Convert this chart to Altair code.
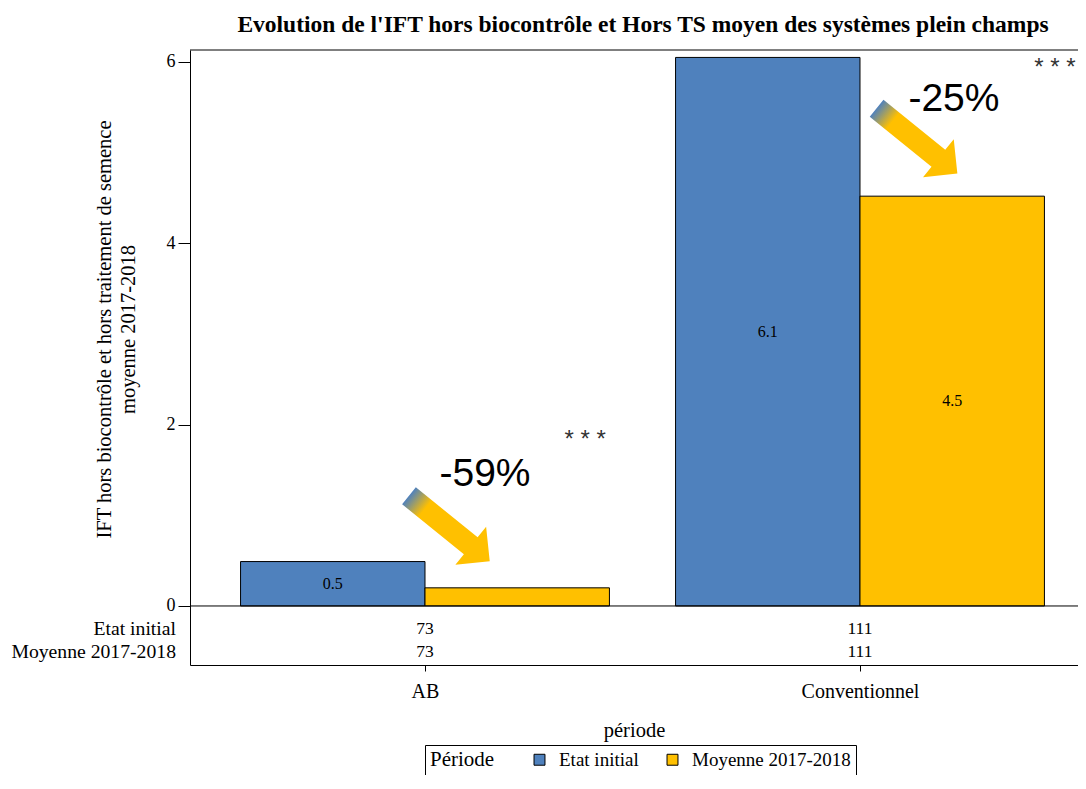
import altair as alt
import pandas as pd

# ---------------- data ----------------
groups = ["AB", "Conventionnel"]
periods = ["Etat initial", "Moyenne 2017-2018"]
values_etat = [0.49, 6.05]
values_moy = [0.20, 4.52]
labels_etat = ["0.5", "6.1"]
labels_moy = ["", "4.5"]
counts_etat = [73, 111]
counts_moy = [73, 111]
changes = ["-59%", "-25%"]
signif = ["* * *", "* * *"]
colors = ["#4F81BD", "#FFC000"]

title = "Evolution de l'IFT hors biocontrôle et Hors TS moyen des systèmes plein champs"
y_title = ["IFT hors biocontrôle et hors traitement de semence", "moyenne 2017-2018"]
x_title = "période"
legend_title = "Période"

# ---------------- layout ----------------
SERIF = "Liberation Serif"
SANS = "Liberation Sans"
W, H = 888, 615
X_MIN = 0.4598
X_MAX = X_MIN + W / 435.0
Y_MIN, Y_MAX = -0.651, 6.132
BAR_W = 0.424
ROW_Y = [-0.254, -0.507]
PCT_POS = [(1.138, 1.46), (2.216, 5.59)]
STAR_POS = [(1.368, 1.83), (2.448, 5.93)]
ARROW_POS = [(1.056, 0.855), (2.131, 5.13)]
ARROW_PATH = "M-1,-0.21L0.53,-0.21L0.53,-0.47L1,0L0.53,0.47L0.53,0.21L-1,0.21Z"

xs = alt.Scale(domain=[X_MIN, X_MAX], nice=False, zero=False)
ys = alt.Scale(domain=[Y_MIN, Y_MAX], nice=False, zero=False)

x_axis = alt.Axis(values=[1, 2],
                  labelExpr="datum.value == 1 ? 'AB' : 'Conventionnel'",
                  ticks=True, tickSize=6, tickColor="black", grid=False,
                  domain=True, domainColor="black",
                  labelPadding=10, labelFontSize=20, labelFont=SERIF,
                  labelColor="black", title=x_title, titleFont=SERIF,
                  titleFontSize=20.5, titleFontWeight="normal",
                  titleColor="black", titlePadding=19)
y_axis = alt.Axis(values=[0, 2, 4, 6], format="d", grid=False, domain=True,
                  domainColor="black", tickColor="black", tickSize=12,
                  labelFontSize=18, labelFont=SERIF, labelColor="black",
                  labelPadding=3, title=y_title, titleFont=SERIF,
                  titleFontSize=20.5, titleLineHeight=24, titleFontWeight="normal",
                  titleColor="black", titlePadding=28, titleY=279)

vals = [values_etat, values_moy]
labs = [labels_etat, labels_moy]
cnts = [counts_etat, counts_moy]
rows = []
for gi, g in enumerate(groups):
    c = gi + 1
    for pi, p in enumerate(periods):
        x = c - BAR_W + pi * BAR_W
        rows.append(dict(group=g, period=p, x=x, x2=x + BAR_W, xm=x + BAR_W / 2,
                         value=vals[pi][gi], base=0.0, ymid=vals[pi][gi] / 2,
                         label=labs[pi][gi], count=str(cnts[pi][gi]),
                         center=c, rowy=ROW_Y[pi]))
bars = pd.DataFrame(rows)

bar_layer = alt.Chart(bars).mark_bar(stroke="black", strokeWidth=1, opacity=1).encode(
    x=alt.X("x:Q", scale=xs, axis=x_axis),
    x2="x2:Q",
    y=alt.Y("value:Q", scale=ys, axis=y_axis),
    y2="base:Q",
    color=alt.Color("period:N", scale=alt.Scale(domain=periods, range=colors),
                    legend=alt.Legend(title=legend_title, orient="none",
                                      legendX=235, legendY=695,
                                      direction="horizontal", titleOrient="left",
                                      strokeColor="black", padding=5,
                                      symbolType="square", symbolSize=120,
                                      symbolStrokeColor="black", symbolStrokeWidth=1,
                                      labelFont=SERIF, labelFontSize=19,
                                      labelColor="black", labelOffset=10,
                                      titleFont=SERIF, titleFontSize=21,
                                      titleFontWeight="normal",
                                      titleColor="black", titlePadding=35,
                                      columnPadding=24)),
)

bar_text = alt.Chart(bars).mark_text(font=SERIF, fontSize=16, color="black").encode(
    x=alt.X("xm:Q", scale=xs, axis=x_axis),
    y=alt.Y("ymid:Q", scale=ys, axis=y_axis),
    text="label:N",
)

count_text = alt.Chart(bars).mark_text(font=SERIF, fontSize=17.5, color="black").encode(
    x=alt.X("center:Q", scale=xs, axis=x_axis),
    y=alt.Y("rowy:Q", scale=ys, axis=y_axis),
    text="count:N",
)

row_df = pd.DataFrame({"label": periods, "y": ROW_Y, "x": [X_MIN] * 2})
row_text = alt.Chart(row_df).mark_text(font=SERIF, fontSize=19.7, color="black",
                                       align="right", dx=-14).encode(
    x=alt.X("x:Q", scale=xs, axis=x_axis),
    y=alt.Y("y:Q", scale=ys, axis=y_axis),
    text="label:N",
)

frame_df = pd.DataFrame({"x": [X_MIN, X_MIN], "x2": [X_MAX, X_MAX], "y": [0.0, Y_MAX]})
frame = alt.Chart(frame_df).mark_rule(color="black", strokeWidth=1).encode(
    x=alt.X("x:Q", scale=xs, axis=x_axis),
    x2="x2:Q",
    y=alt.Y("y:Q", scale=ys, axis=y_axis),
)

ann = pd.DataFrame({
    "pct": changes, "px": [p[0] for p in PCT_POS], "py": [p[1] for p in PCT_POS],
    "star": signif, "sx": [p[0] for p in STAR_POS], "sy": [p[1] for p in STAR_POS],
    "ax": [p[0] for p in ARROW_POS], "ay": [p[1] for p in ARROW_POS],
})

pct_text = alt.Chart(ann).mark_text(font=SANS, fontSize=39, color="black").encode(
    x=alt.X("px:Q", scale=xs, axis=x_axis),
    y=alt.Y("py:Q", scale=ys, axis=y_axis),
    text="pct:N",
)
star_text = alt.Chart(ann).mark_text(font=SANS, fontSize=24, color="#333333").encode(
    x=alt.X("sx:Q", scale=xs, axis=x_axis),
    y=alt.Y("sy:Q", scale=ys, axis=y_axis),
    text="star:N",
)

gradient = {
    "gradient": "linear", "x1": 0, "y1": 0, "x2": 1, "y2": 0,
    "stops": [
        {"offset": 0, "color": colors[0]},
        {"offset": 0.2, "color": colors[1]},
        {"offset": 1, "color": colors[1]},
    ],
}
arrows = alt.Chart(ann).mark_point(shape=ARROW_PATH, size=10800, angle=39,
                                   filled=True, fill=gradient, opacity=1,
                                   strokeWidth=0).encode(
    x=alt.X("ax:Q", scale=xs, axis=x_axis),
    y=alt.Y("ay:Q", scale=ys, axis=y_axis),
)

chart = alt.layer(bar_layer, frame, bar_text, count_text, row_text, arrows,
                  pct_text, star_text).properties(
    width=W, height=H,
    title=alt.TitleParams(text=title, font=SERIF, fontSize=23.5, fontWeight="bold",
                          anchor="middle", offset=13, dx=9, color="black"),
    autosize=alt.AutoSizeParams(type="none"),
    padding={"left": 182, "top": 42, "right": 0, "bottom": 110},
).configure_view(stroke=None)

chart.save("out.html", embed_options={"renderer": "svg", "actions": False})
